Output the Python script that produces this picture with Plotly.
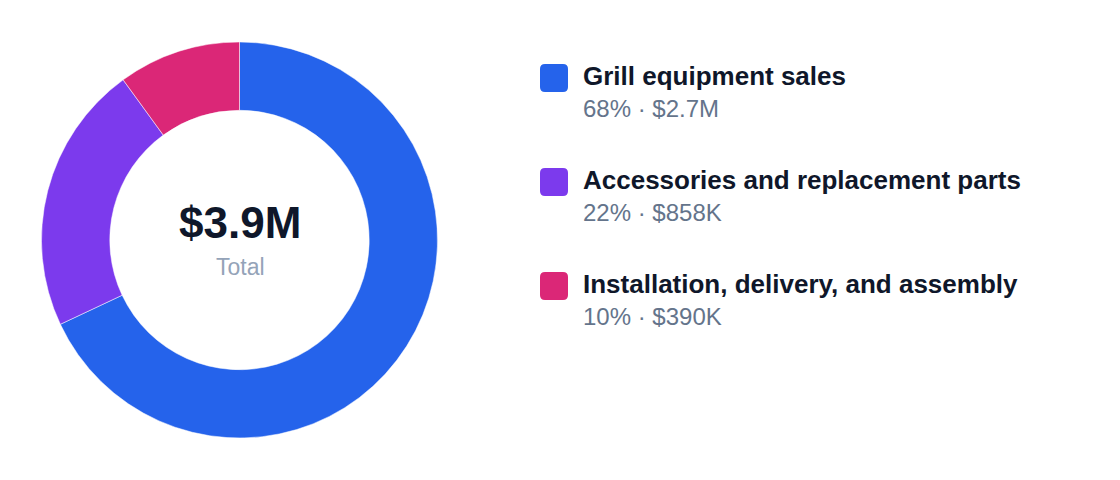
import plotly.graph_objects as go

W, H = 1120, 480
OFF = 8  # page body margin

categories = ["Grill equipment sales", "Accessories and replacement parts",
              "Installation, delivery, and assembly"]
values_k = [2652, 858, 390]
value_labels = ["$2.7M", "$858K", "$390K"]
total_label = "$3.9M"
colors = ["#2563EB", "#7C3AED", "#DB2777"]


def px_x(x):
    return (x - OFF) / W


def px_y(y):
    return 1 - (y - OFF) / H


def rounded_rect(x0, y0, x1, y1, r):
    # path in paper coords, built from pixel corners
    pts = [
        f"M {px_x(x0 + r)},{px_y(y0)}",
        f"L {px_x(x1 - r)},{px_y(y0)}",
        f"Q {px_x(x1)},{px_y(y0)} {px_x(x1)},{px_y(y0 + r)}",
        f"L {px_x(x1)},{px_y(y1 - r)}",
        f"Q {px_x(x1)},{px_y(y1)} {px_x(x1 - r)},{px_y(y1)}",
        f"L {px_x(x0 + r)},{px_y(y1)}",
        f"Q {px_x(x0)},{px_y(y1)} {px_x(x0)},{px_y(y1 - r)}",
        f"L {px_x(x0)},{px_y(y0 + r)}",
        f"Q {px_x(x0)},{px_y(y0)} {px_x(x0 + r)},{px_y(y0)}",
        "Z",
    ]
    return " ".join(pts)


total = sum(values_k)

fig = go.Figure(go.Pie(
    labels=categories,
    values=values_k,
    hole=0.655,
    sort=False,
    direction="clockwise",
    rotation=0,
    marker=dict(colors=colors, line=dict(color="white", width=0.5)),
    textinfo="none",
    hoverinfo="label+percent",
    showlegend=False,
    domain=dict(x=[px_x(41), px_x(438)], y=[px_y(438), px_y(42)]),
))

annotations = [
    dict(x=px_x(240), y=px_y(222), text=f"<b>{total_label}</b>",
         font=dict(size=44, color="#0F172A")),
    dict(x=px_x(240), y=px_y(267), text="Total",
         font=dict(size=23, color="#94A3B8")),
]
shapes = []

row_y = [76, 180, 284]
for i, cat in enumerate(categories):
    y = row_y[i]
    pct = round(values_k[i] / total * 100)
    shapes.append(dict(type="path", xref="paper", yref="paper",
                       path=rounded_rect(540, y - 12, 568, y + 16, 5),
                       fillcolor=colors[i], line=dict(width=0)))
    annotations.append(dict(x=px_x(581), y=px_y(y), text=f"<b>{cat}</b>",
                            xanchor="left", font=dict(size=26, color="#0F172A")))
    annotations.append(dict(x=px_x(581), y=px_y(y + 32), text=f"{pct}% · {value_labels[i]}",
                            xanchor="left", font=dict(size=24, color="#64748B")))

for a in annotations:
    a.update(xref="paper", yref="paper", showarrow=False, yanchor="middle")
    a.setdefault("xanchor", "center")

fig.update_layout(
    width=W, height=H,
    margin=dict(l=0, r=0, t=0, b=0),
    paper_bgcolor="white",
    plot_bgcolor="white",
    font=dict(family="Liberation Sans, Arial, sans-serif"),
    annotations=annotations,
    shapes=shapes,
)

fig.write_html("out.html")
